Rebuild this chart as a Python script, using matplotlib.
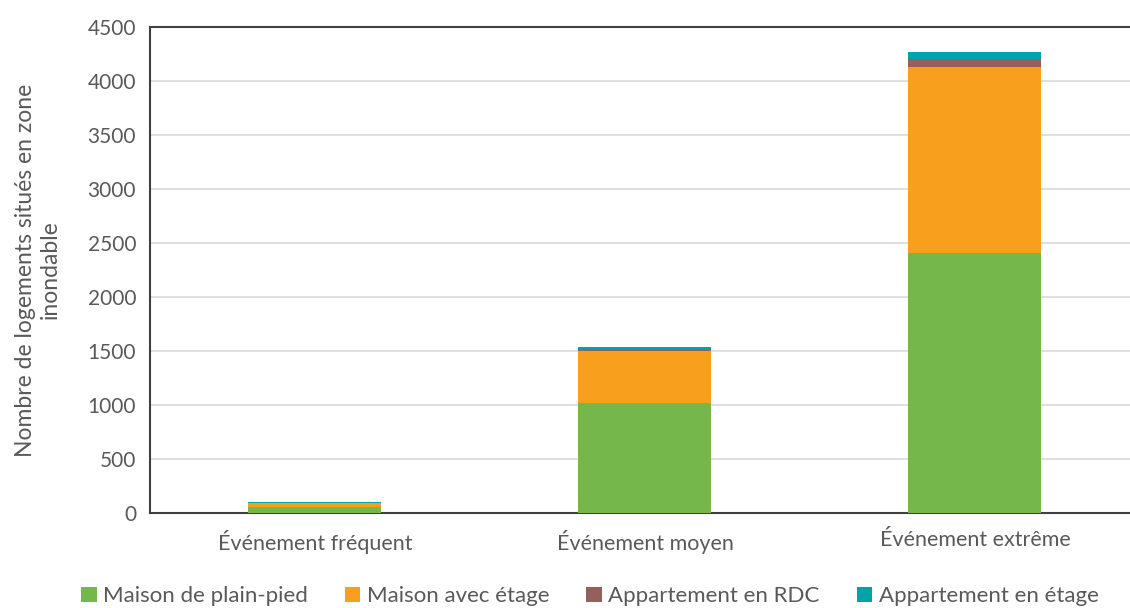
import matplotlib
matplotlib.use("Agg")
import matplotlib.pyplot as plt
import numpy as np

plt.rcParams['font.family'] = ['Lato', 'DejaVu Sans']

categories = ['Événement fréquent', 'Événement moyen', 'Événement extrême']
series_names = ['Maison de plain-pied', 'Maison avec étage', 'Appartement en RDC', 'Appartement en étage']
plain_pied = [53, 1015, 2410]
avec_etage = [40, 482, 1720]
appart_rdc = [2, 25, 75]
appart_etage = [6, 16, 65]
colors = ['#76b74b', '#f99f1e', '#955f5b', '#00a3ac']

yticks = [0, 500, 1000, 1500, 2000, 2500, 3000, 3500, 4000, 4500]

fig = plt.figure(figsize=(11.3, 6.08), dpi=100)
ax = fig.add_axes([150 / 1130, 1 - 513 / 608, 1 - 150 / 1130, (513 - 27) / 608])

x = np.arange(len(categories))
bottom = np.zeros(len(categories))
for name, vals, c in zip(series_names, [plain_pied, avec_etage, appart_rdc, appart_etage], colors):
    ax.bar(x, vals, width=0.403, bottom=bottom, color=c, label=name, zorder=3)
    bottom += np.array(vals)

ax.set_xlim(-0.5, 2.47)
ax.set_ylim(0, 4500)
ax.set_yticks(yticks)
ax.set_xticks(x)
ax.set_xticklabels(categories, fontsize=15.5)
ax.yaxis.grid(True, color='#d9d9d9', linewidth=1.2, zorder=0)
ax.tick_params(axis='both', length=0, colors='#595959')
ax.tick_params(axis='y', labelsize=15, pad=10)
ax.tick_params(axis='x', pad=12)

for side in ['left', 'bottom', 'top']:
    ax.spines[side].set_color('#404040')
    ax.spines[side].set_linewidth(1.5)
ax.spines['right'].set_visible(False)

ax.set_ylabel('Nombre de logements situés en zone\ninondable', fontsize=16.5,
              color='#595959', labelpad=19, linespacing=1.25)

fig.legend(loc='lower center', bbox_to_anchor=(0.522, -0.03), ncol=4, frameon=False,
           fontsize=16, labelcolor='#595959', handlelength=0.7, handleheight=0.7,
           handletextpad=0.3, columnspacing=1.65)

fig.savefig('out.png', dpi=100)
